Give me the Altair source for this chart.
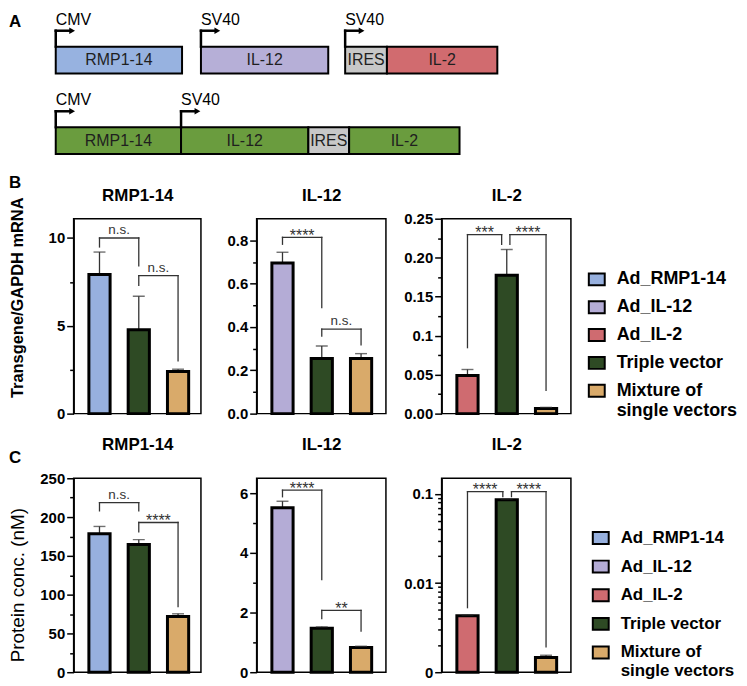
import altair as alt
import pandas as pd

FONT = "Liberation Sans"

# ---------------- chart values ----------------
legend_names = ["Ad_RMP1-14", "Ad_IL-12", "Ad_IL-2", "Triple vector",
                "Mixture of single vectors"]
legend_colors = ["#97b0de", "#b4acd6", "#cf6b70", "#2e4a24", "#d9aa6a"]

genes = ["RMP1-14", "IL-12", "IL-2"]
single_vectors = ["Ad_RMP1-14", "Ad_IL-12", "Ad_IL-2"]
bar_slots = [0, 1, 2]  # single vector, triple vector, mixture of single vectors

# B: transgene / GAPDH mRNA (mean and mean + SD)
mrna_rmp_mean = [7.92, 4.78, 2.40]
mrna_rmp_top = [9.20, 6.68, 2.53]
mrna_il12_mean = [0.695, 0.254, 0.254]
mrna_il12_top = [0.745, 0.312, 0.277]
mrna_il2_mean = [0.049, 0.1775, 0.0065]
mrna_il2_top = [0.0566, 0.2105, 0.0080]

# C: protein concentration in nM (mean and mean + SD)
prot_rmp_mean = [178.6, 164.5, 71.8]
prot_rmp_top = [187.9, 170.9, 75.3]
prot_il12_mean = [5.51, 1.47, 0.83]
prot_il12_top = [5.73, 1.52, 0.87]
prot_il2_mean = [0.0043, 0.086, 0.00146]
prot_il2_top = [0.0044, 0.088, 0.00155]

# significance brackets: from slot, to slot, bracket level, left end, right end, label
sig_mrna_rmp = [(0, 1, 10.0, 9.49, 8.42, "n.s."), (1, 2, 7.86, 7.30, 3.01, "n.s.")]
sig_mrna_il12 = [(0, 1, 0.814, 0.782, 0.49, "****"), (1, 2, 0.39, 0.358, 0.317, "n.s.")]
sig_mrna_il2 = [(0, 0.87, 0.2296, 0.0846, 0.217, "***"), (1.08, 2, 0.2296, 0.217, 0.0299, "****")]
sig_prot_rmp = [(0, 1, 218.5, 208, 208, "n.s."), (1, 2, 193, 181, 84.6, "****")]
sig_prot_il12 = [(0, 1, 6.1, 5.88, 3.1, "****"), (1, 2, 2.07, 1.80, 1.38, "**")]
sig_prot_il2 = [(0, 0.9, 0.106, 0.0053, 0.0934, "****"), (1.12, 2, 0.106, 0.0934, 0.00193, "****")]

# y axes
dom_mrna_rmp = [0, 11.1]
ticks_mrna_rmp = [0, 2.5, 5, 7.5, 10]
labels_mrna_rmp = [(0, "0"), (5, "5"), (10, "10")]
dom_mrna_il12 = [0, 0.9]
ticks_mrna_il12 = [0, 0.1, 0.2, 0.3, 0.4, 0.5, 0.6, 0.7, 0.8]
labels_mrna_il12 = [(0, "0.0"), (0.2, "0.2"), (0.4, "0.4"), (0.6, "0.6"), (0.8, "0.8")]
dom_mrna_il2 = [0, 0.25]
ticks_mrna_il2 = [0, 0.025, 0.05, 0.075, 0.1, 0.125, 0.15, 0.175, 0.2, 0.225, 0.25]
labels_mrna_il2 = [(0, "0.00"), (0.05, "0.05"), (0.1, "0.1"), (0.15, "0.15"),
                   (0.2, "0.20"), (0.25, "0.25")]
dom_prot_rmp = [0, 250]
ticks_prot_rmp = [0, 25, 50, 75, 100, 125, 150, 175, 200, 225, 250]
labels_prot_rmp = [(0, "0"), (50, "50"), (100, "100"), (150, "150"), (200, "200"), (250, "250")]
dom_prot_il12 = [0, 6.5]
ticks_prot_il12 = [0, 1, 2, 3, 4, 5, 6]
labels_prot_il12 = [(0, "0"), (2, "2"), (4, "4"), (6, "6")]
dom_prot_il2 = [0.001, 0.15]
ticks_prot_il2 = [0.001, 0.002, 0.003, 0.004, 0.005, 0.006, 0.007, 0.008, 0.009,
                  0.01, 0.02, 0.03, 0.04, 0.05, 0.06, 0.07, 0.08, 0.09, 0.1]
labels_prot_il2 = [(0.001, "0"), (0.01, "0.01"), (0.1, "0.1")]

# A: vector constructs
construct_row = [1, 1, 1, 1, 2, 2, 2, 2]
construct_element = ["RMP1-14", "IL-12", "IRES", "IL-2", "RMP1-14", "IL-12", "IRES", "IL-2"]
construct_start = [0, 146, 291, 333, 0, 126, 254, 295]
construct_end = [127, 274, 333, 444, 126, 254, 295, 406]
promoter_name = ["CMV", "SV40", "SV40", "CMV", "SV40"]
promoter_row = [1, 1, 1, 2, 2]
promoter_at = [0, 146, 291, 0, 126]
part_names = ["RMP1-14", "IL-12", "IL-2", "IRES", "Triple vector"]
part_colors = ["#97b2e0", "#b6afd7", "#d16b6f", "#c8c8c8", "#6a9c3e"]

INK = "#333333"


def y_axis(ticks, labels, title=None, tx=None, ty=None, tsize=16, tweight="bold"):
    expr = " : ".join(f"datum.value === {v!r} ? '{t}'" for v, t in labels) + " : ''"
    test = "indexof([" + ", ".join(repr(v) for v, _ in labels) + "], datum.value) >= 0"
    kw = dict(values=ticks, labelExpr=expr,
              tickSize={"condition": {"test": test, "value": 7}, "value": 4},
              grid=False, labelFont=FONT, labelFontSize=15, labelFontWeight="bold",
              labelColor="black", labelPadding=2, labelOverlap=False, labelFlush=False,
              domainColor="black", domainWidth=1.5, tickColor="black", tickWidth=1.5)
    if title is not None:
        kw.update(titleX=tx, titleY=ty, titleAngle=270, titleAlign="center",
                  titleBaseline="bottom", titleFont=FONT, titleFontSize=tsize,
                  titleFontWeight=tweight, titleColor="black")
    return alt.Axis(**kw)


def bar_panel(gi, means, tops, sigs, domain, ticks, labels, width, height, title_y,
              scale_type="linear", y_title=None, tx=None, ty=None, tsize=16,
              tweight="bold", legend=None, letter=None, letter_y=0):
    gene = genes[gi]
    groups = [single_vectors[gi], "Triple vector", "Mixture of single vectors"]
    df = pd.DataFrame({"slot": bar_slots, "group": groups, "mean": means, "top": tops})
    df["base"] = domain[0]
    df["lo"] = df["slot"] - 0.27
    df["hi"] = df["slot"] + 0.27
    sig = pd.DataFrame(sigs, columns=["x1", "x2", "y", "yl", "yr", "label"])
    sig["mid"] = (sig["x1"] + sig["x2"]) / 2

    xs = alt.Scale(domain=[-0.658, -0.658 + width / 39.5], nice=False, zero=False)
    if scale_type == "log":
        ys = alt.Scale(type="log", domain=domain, nice=False)
    else:
        ys = alt.Scale(domain=domain, nice=False, zero=False)
    xa = alt.Axis(orient="top", labels=False, ticks=False, domain=False, grid=False,
                  titleFont=FONT, titleFontSize=17, titleFontWeight="bold",
                  titleColor="black", titleY=title_y, titleBaseline="alphabetic")
    ya = y_axis(ticks, labels, y_title, tx, ty, tsize, tweight)

    def X(f):
        return alt.X(f, type="quantitative", scale=xs, axis=xa, title=gene)

    def Y(f):
        return alt.Y(f, type="quantitative", scale=ys, axis=ya, title=y_title)

    base = alt.Chart(df)
    err = base.mark_rule(color=INK, strokeWidth=1.3).encode(x=X("slot"), y=Y("mean"), y2="top")
    bars = base.mark_bar(stroke="black", strokeWidth=3, opacity=1).encode(
        x=X("lo"), x2="hi", y=Y("mean"), y2="base",
        fill=alt.Fill("group:N", scale=alt.Scale(domain=legend_names, range=legend_colors),
                      legend=legend))
    cap = base.mark_tick(orient="horizontal", size=12, thickness=1.4, color=INK).encode(
        x=X("slot"), y=Y("top"))
    sb = alt.Chart(sig)
    rs = dict(color=INK, strokeWidth=1.3, strokeCap="square")
    hline = sb.mark_rule(**rs).encode(x=X("x1"), x2="x2", y=Y("y"))
    lleg = sb.mark_rule(**rs).encode(x=X("x1"), y=Y("y"), y2="yl")
    rleg = sb.mark_rule(**rs).encode(x=X("x2"), y=Y("y"), y2="yr")
    t_ns = sb.mark_text(font=FONT, fontSize=13.5, color=INK, dy=-4, baseline="alphabetic").encode(
        x=X("mid"), y=Y("y"), text="label:N").transform_filter("datum.label == 'n.s.'")
    t_st = sb.mark_text(font=FONT, fontSize=16, color=INK, dy=3.5, baseline="alphabetic").encode(
        x=X("mid"), y=Y("y"), text="label:N").transform_filter("datum.label != 'n.s.'")
    layers = [err, bars, cap, hline, lleg, rleg, t_ns, t_st]
    if letter:
        layers.append(alt.Chart(pd.DataFrame({"t": [letter]})).mark_text(
            font=FONT, fontSize=17, fontWeight="bold", align="left", baseline="alphabetic",
            color="black").encode(x=alt.value(-65), y=alt.value(letter_y), text="t:N"))
    return alt.layer(*layers).properties(width=width, height=height)


def make_legend(lx, ly, size, row_pad):
    return alt.Legend(orient="none", legendX=lx, legendY=ly, title=None,
                      symbolType="M-1,-0.75H1V0.75H-1Z", symbolSize=256,
                      symbolStrokeColor="black", symbolStrokeWidth=2, symbolOpacity=1,
                      labelFont=FONT, labelFontSize=size, labelFontWeight="bold",
                      labelColor="black", labelOffset=11, rowPadding=row_pad, labelLimit=400,
                      padding=0,
                      labelExpr="datum.label === 'Mixture of single vectors' ? "
                                "['Mixture of', 'single vectors'] : datum.label")


# ---------------- panel A ----------------
LANE = 81.0            # px between the two construct rows
HALF = 13.5 / LANE     # half box height
STEM = 16.0 / LANE     # promoter arrow stem
cons = pd.DataFrame({"row": construct_row, "element": construct_element,
                     "start": construct_start, "end": construct_end})
cons["part"] = [e if r == 1 else ("IRES" if e == "IRES" else "Triple vector")
                for r, e in zip(construct_row, construct_element)]
cons["mid"] = (cons["start"] + cons["end"]) / 2
cons["top"] = cons["row"] - HALF
cons["bot"] = cons["row"] + HALF
prom = pd.DataFrame({"name": promoter_name, "row": promoter_row, "at": promoter_at})
prom["base"] = prom["row"] - HALF
prom["arm"] = prom["row"] - HALF - STEM
prom["tip"] = prom["at"] + 14
prom["head"] = prom["at"] + 16.5

A_W, A_H = 128, 142
xsa = alt.Scale(domain=[18, 18 + A_W], nice=False, zero=False)
ysa = alt.Scale(domain=[1 - 47.5 / LANE, 1 + (A_H - 47.5) / LANE], reverse=True,
                nice=False, zero=False)


def XA(f):
    return alt.X(f, type="quantitative", scale=xsa, axis=None)


def YA(f):
    return alt.Y(f, type="quantitative", scale=ysa, axis=None)


ca = alt.Chart(cons)
pa = alt.Chart(prom)
boxes = ca.mark_rect(stroke="black", strokeWidth=2).encode(
    x=XA("start"), x2="end", y=YA("top"), y2="bot",
    fill=alt.Fill("part:N", scale=alt.Scale(domain=part_names, range=part_colors), legend=None))
names = ca.mark_text(font=FONT, fontSize=16, color="#1f1f1f").encode(
    x=XA("mid"), y=YA("row"), text="element:N")
stems = pa.mark_rule(color="black", strokeWidth=2.5, strokeCap="square").encode(
    x=XA("at"), y=YA("base"), y2="arm")
arms = pa.mark_rule(color="black", strokeWidth=2.5, strokeCap="square").encode(
    x=XA("at"), x2="tip", y=YA("arm"))
heads = pa.mark_point(shape="triangle-right", filled=True, size=45, color="black", opacity=1).encode(
    x=XA("head"), y=YA("arm"))
plabels = pa.mark_text(font=FONT, fontSize=16, align="left", baseline="alphabetic", dy=-6,
                       color="black").encode(x=XA("at"), y=YA("arm"), text="name:N")
letter_a = alt.Chart(pd.DataFrame({"t": ["A"]})).mark_text(
    font=FONT, fontSize=17, fontWeight="bold", align="left", baseline="alphabetic",
    color="black").encode(x=alt.value(-65), y=alt.value(14), text="t:N")
panel_a = alt.layer(boxes, names, stems, arms, heads, plabels, letter_a).properties(
    width=A_W, height=A_H, view=alt.ViewBackground(strokeOpacity=0))


def spacer(w):
    return alt.Chart(pd.DataFrame({"v": [0]})).mark_point(opacity=0).encode(
        x=alt.X("v:Q", axis=None), y=alt.Y("v:Q", axis=None)
    ).properties(width=w, height=1, view=alt.ViewBackground(strokeOpacity=0))


# ---------------- panels B and C ----------------
b1 = bar_panel(0, mrna_rmp_mean, mrna_rmp_top, sig_mrna_rmp, dom_mrna_rmp, ticks_mrna_rmp,
               labels_mrna_rmp, 128, 196, -18, y_title="Transgene/GAPDH mRNA",
               tx=-48.5, ty=79, tsize=16.5, tweight="bold", letter="B", letter_y=-31)
b2 = bar_panel(1, mrna_il12_mean, mrna_il12_top, sig_mrna_il12, dom_mrna_il12, ticks_mrna_il12,
               labels_mrna_il12, 130, 196, -18)
b3 = bar_panel(2, mrna_il2_mean, mrna_il2_top, sig_mrna_il2, dom_mrna_il2, ticks_mrna_il2,
               labels_mrna_il2, 130, 196, -18, legend=make_legend(147, 52, 18, 8))
c1 = bar_panel(0, prot_rmp_mean, prot_rmp_top, sig_prot_rmp, dom_prot_rmp, ticks_prot_rmp,
               labels_prot_rmp, 128, 195, -29, y_title="Protein conc. (nM)",
               tx=-46, ty=107, tsize=19, tweight="normal", letter="C", letter_y=-15)
c2 = bar_panel(1, prot_il12_mean, prot_il12_top, sig_prot_il12, dom_prot_il12, ticks_prot_il12,
               labels_prot_il12, 130, 195, -29)
c3 = bar_panel(2, prot_il2_mean, prot_il2_top, sig_prot_il2, dom_prot_il2, ticks_prot_il2,
               labels_prot_il2, 130, 195, -29, scale_type="log",
               legend=make_legend(151, 51, 17, 8.8))

chart = alt.concat(
    panel_a, spacer(130), spacer(130),
    b1, b2, b3,
    c1, c2, c3,
    columns=3,
    spacing={"row": 65, "column": 56},
    align="each",
    bounds="flush",
).resolve_scale(fill="independent").properties(padding=0).configure(
    font=FONT,
    view=alt.ViewConfig(stroke="black", strokeWidth=1.5),
)

chart.save("out.html", embed_options={"renderer": "svg", "actions": False})
